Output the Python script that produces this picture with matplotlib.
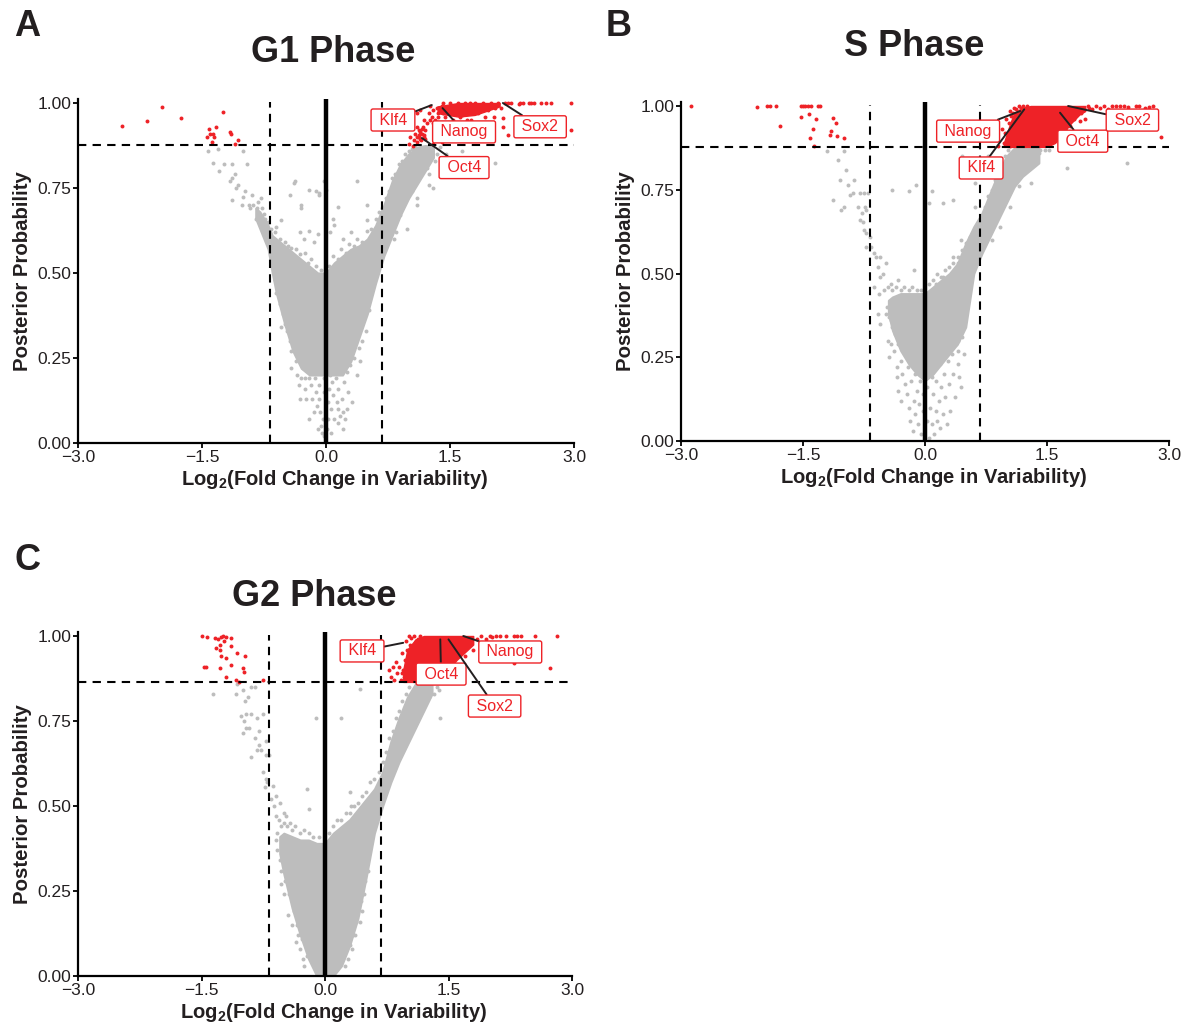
import numpy as np
from matplotlib import pyplot as plt

plt.rcParams['font.family'] = ['Liberation Sans', 'DejaVu Sans']
plt.rcParams['mathtext.fontset'] = 'custom'
plt.rcParams['mathtext.bf'] = 'Liberation Sans:bold'
plt.rcParams['mathtext.rm'] = 'Liberation Sans'

W, H = 1189, 1028
GREY = '#bdbdbd'
RED = '#ee2227'
INK = '#231f20'
FOLD = np.log2(1.6)

x_ticks = [-3.0, -1.5, 0.0, 1.5, 3.0]
x_tick_labels = ['\u22123.0', '\u22121.5', '0.0', '1.5', '3.0']
y_ticks = [0, 0.25, 0.5, 0.75, 1.0]
y_tick_labels = ['0.00', '0.25', '0.50', '0.75', '1.00']

g1_x = [-.85, -.8, -.7, -.65, -.6, -.5, -.4, -.3, -.2, -.1, 0, .1, .2, .3, .4, .5, .6, .7, .8, .9, 1.0, 1.1, 1.2, 1.3]
g1_lo = [.66, .63, .57, .50, .44, .35, .27, .22, .20, .20, .20, .20, .20, .24, .31, .38, .47, .55, .61, .67, .72, .76, .80, .84]
g1_hi = [.69, .68, .64, .61, .60, .58, .56, .54, .52, .50, .50, .53, .55, .57, .58, .60, .64, .70, .77, .82, .85, .87, .875, .875]

s_x = [-.45, -.4, -.3, -.2, -.1, 0, .1, .2, .3, .4, .5, .6, .7, .8, .9, 1.0, 1.1, 1.2, 1.3, 1.4]
s_lo = [.38, .33, .27, .23, .20, .18, .20, .23, .26, .29, .34, .50, .56, .61, .66, .71, .76, .79, .81, .83]
s_hi = [.42, .43, .44, .44, .44, .44, .46, .48, .50, .53, .59, .64, .68, .74, .80, .85, .875, .875, .875, .875]

g2_x = [-.55, -.5, -.4, -.3, -.2, -.1, 0, .1, .2, .3, .4, .5, .6, .7, .8, .9, 1.0, 1.1, 1.2, 1.3]
g2_lo = [.36, .30, .20, .12, .05, 0, 0, 0, .03, .09, .17, .29, .42, .50, .57, .63, .68, .73, .78, .83]
g2_hi = [.41, .42, .41, .40, .40, .39, .39, .42, .44, .46, .49, .52, .55, .60, .69, .76, .82, .86, .86, .86]

# dense part of the red clouds
g1_red_x = [1.35, 1.6, 1.8, 2.1]
g1_red_lo = [.97, .96, .965, .99]
g1_red_hi = [.99, 1.0, 1.0, 1.0]

s_red_x = [.97, 1.05, 1.1, 1.2, 1.3, 1.5, 1.6, 1.7, 1.8, 1.9, 1.97]
s_red_lo = [.878, .878, .878, .878, .878, .878, .89, .92, .95, .975, .985]
s_red_hi = [.89, .95, .98, .995, 1.0, 1.0, 1.0, 1.0, 1.0, 1.0, 1.0]

g2_red_x = [.95, 1.0, 1.1, 1.2, 1.4, 1.6, 1.8]
g2_red_lo = [.865, .865, .865, .865, .875, .93, .975]
g2_red_hi = [.9, .96, .99, 1.0, 1.0, 1.0, 1.0]

g1_grey = [(-1.43, .86), (-1.37, .824), (-1.31, .865), (-1.30, .80), (-1.23, .82), (-1.14, .82), (-1.0, .86), (-.96, .82),
           (-1.14, .78), (-1.10, .79), (-1.16, .77), (-1.07, .76), (-.98, .74), (-1.14, .715), (-1.0, .725), (-.89, .73),
           (-.79, .72), (-.93, .70), (-.84, .69), (-.75, .675), (-.54, .655), (-.61, .635), (-1.02, .70), (-1.09, .75),
           (-.39, .765), (-.37, .77), (-.43, .73), (-.21, .745), (-.12, .74), (-.09, .735), (-.03, .77), (-.30, .70),
           (-.08, .73), (.38, .77), (.49, .70), (.14, .695), (.0, .745), (-.3, .69), (-.31, .62), (-.2, .625), (-.1, .615),
           (.1, .64), (.05, .62), (.2, .6), (-.27, .60), (.49, .655), (.08, .66), (-.15, .59), (.3, .62),
           (2.05, .825), (1.65, .86), (1.45, .85), (1.3, .75), (1.24, .79), (1.1, .72), (.85, .62), (.98, .63), (1.1, .7),
           (1.38, .87), (1.32, .83), (.9, .67), (.82, .60), (1.25, .76), (.93, .79), (1.03, .81),
           (-.55, .34), (-.47, .33), (-.42, .27), (-.36, .24), (-.35, .20), (-.33, .17), (-.32, .13), (-.28, .22), (-.26, .19),
           (-.25, .16), (-.22, .22), (-.2, .19), (-.18, .17), (-.17, .13), (-.16, .21), (-.13, .19), (-.12, .15), (-.11, .11),
           (-.09, .17), (-.08, .13), (-.07, .09), (-.06, .05), (-.05, .03), (-.04, .07), (-.03, .15), (-.02, .02), (.01, .04),
           (.02, .12), (.03, .07), (.04, .16), (.06, .1), (.07, .18), (.09, .14), (.1, .07), (.12, .19), (.13, .12), (.15, .16),
           (.17, .08), (.18, .22), (.19, .13), (.2, .09), (.22, .18), (.23, .07), (.25, .21), (.27, .15), (.29, .23), (.31, .12),
           (.34, .25), (.37, .2), (.4, .28), (.41, .24), (.43, .3), (.48, .33), (.52, .39)]

g1_fringe = [(-.92, .69), (-.88, .70), (-.85, .66), (-.82, .71), (-.78, .69), (-.74, .66), (-.7, .65), (-.66, .63), (-.62, .62),
             (-.56, .60), (-.5, .59), (-.46, .58), (-.42, .575), (-.36, .57), (-.32, .555), (-.26, .56), (-.22, .53), (-.18, .54),
             (-.12, .52), (-.06, .51), (.04, .52), (.09, .55), (.14, .54), (.18, .57), (.24, .56), (.28, .585), (.34, .58),
             (.38, .60), (.44, .59), (.5, .625), (.55, .63), (.6, .66), (.64, .68), (.68, .69), (.72, .72), (.76, .74), (.8, .78),
             (.84, .79), (.88, .82), (.92, .83), (.96, .85), (1.0, .86), (1.04, .865), (1.08, .87), (.62, .55), (.68, .58),
             (.74, .61), (.8, .63), (.86, .66), (.92, .69), (.98, .72), (1.04, .74), (1.1, .77), (1.16, .80), (1.22, .81),
             (1.28, .84), (1.34, .85), (.56, .47), (.52, .42), (.46, .4), (.42, .35), (-.66, .53), (-.62, .48), (-.6, .44),
             (-.56, .41), (-.52, .38), (-.5, .35), (-.46, .34), (-.44, .3), (-.4, .31), (-.36, .28), (-.32, .26), (-.14, .24),
             (-.07, .21), (-.02, .19), (.05, .2), (.11, .21), (.16, .24), (.24, .25), (.32, .28), (-.42, .22), (-.3, .19), (-.24, .13),
             (-.2, .07), (-.15, .09), (-.1, .04), (.06, .03), (.14, .06), (.21, .04), (.15, .1), (.26, .1)]

g1_red = [(-2.47, .933), (-2.17, .948), (-1.98, .988), (-1.75, .955), (-1.24, .974), (-1.42, .925), (-1.33, .93), (-1.44, .90),
          (-1.40, .91), (-1.37, .91), (-1.35, .90), (-1.38, .885), (-1.16, .915), (-1.15, .91), (-1.06, .89), (-1.1, .88),
          (1.0, .88), (1.02, .90), (1.05, .875), (1.07, .89), (1.08, .91), (1.1, .885), (1.1, .93), (1.12, .90), (1.13, .92),
          (1.15, .89), (1.16, .91), (1.17, .93), (1.18, .95), (1.19, .90), (1.2, .92), (1.1, .97), (1.14, .98), (1.22, .94),
          (1.24, .97), (1.26, .99), (1.28, .96), (1.3, .98), (1.32, .95), (1.34, .985), (1.36, .97), (1.38, .94), (1.4, .99),
          (1.42, 1.0), (1.44, .96), (1.46, .98), (1.48, .94), (1.5, 1.0), (1.52, .97), (1.54, .95), (1.56, .99), (1.58, .97),
          (1.6, 1.0), (1.62, .96), (1.64, .98), (1.66, .94), (1.68, 1.0), (1.7, .97), (1.72, .99), (1.74, 1.0), (1.76, .95),
          (1.78, .98), (1.8, 1.0), (1.84, .97), (1.88, .99), (1.9, 1.0), (1.92, .96), (1.96, .98), (2.0, 1.0), (2.02, .99),
          (2.05, .985), (2.08, 1.0), (2.12, .985), (2.16, 1.0), (2.2, 1.0), (2.24, 1.0), (2.33, .997), (2.35, 1.0), (2.38, 1.0),
          (2.45, 1.0), (2.48, 1.0), (2.52, 1.0), (2.6, 1.0), (2.66, 1.0), (2.72, 1.0), (2.96, 1.0), (2.96, .92), (2.14, .955),
          (2.03, .96), (2.14, .93), (1.8, .94), (1.69, .915), (1.62, .93), (2.2, .905), (1.5, .89), (1.4, .885), (1.3, .88),
          (1.12, .905), (1.14, .915), (1.16, .925), (1.1, .9), (1.18, .905), (1.2, .895), (1.14, .895), (1.5, .97), (1.55, .98),
          (1.65, .965), (1.7, .95), (1.75, .97), (1.85, .985), (1.95, .995), (1.35, .96), (1.42, .97), (1.3, .94), (1.26, .95)]

s_grey = [(-1.2, .865), (-1.07, .84), (-1.0, .865), (-.97, .81), (-1.05, .78), (-.95, .765), (-.87, .78), (-1.13, .72),
          (-.92, .735), (-.88, .74), (-.8, .74), (-.75, .74), (-.7, .74), (-1.0, .70), (-1.03, .69), (-.82, .70), (-.78, .68),
          (-.74, .70), (-.72, .69), (-.8, .66), (-.76, .655), (-.75, .63), (-.72, .62), (-.68, .61), (-.72, .58), (-.66, .58),
          (-.63, .56), (-.6, .55), (-.55, .55), (-.58, .52), (-.55, .49), (-.52, .50), (-.48, .53), (-.42, .47), (-.33, .48),
          (-.14, .51), (-.63, .46), (-.56, .44), (-.58, .38), (-.48, .38), (-.42, .36), (-.11, .765), (-.2, .745), (-.4, .75),
          (.09, .745), (.05, .71), (.22, .71), (.35, .72), (-.55, .35), (-.45, .30), (-.44, .25), (-.42, .29), (-.38, .27),
          (-.35, .22), (-.34, .19), (-.33, .15), (-.3, .24), (-.3, .12), (-.28, .20), (-.25, .17), (-.24, .27), (-.22, .14),
          (-.21, .22), (-.2, .1), (-.19, .06), (-.17, .18), (-.16, .25), (-.15, .03), (-.14, .12), (-.12, .08), (-.12, .2),
          (-.1, .15), (-.08, .05), (-.07, .11), (-.06, .18), (-.05, .02), (-.03, .09), (-.02, .14), (.02, .06), (.03, .16), (.05, .01),
          (.06, .1), (.08, .19), (.09, .05), (.1, .14), (.11, .02), (.13, .09), (.14, .18), (.15, .06), (.17, .12), (.18, .23),
          (.19, .04), (.2, .16), (.22, .08), (.23, .2), (.25, .13), (.27, .05), (.28, .24), (.3, .17), (.31, .09), (.33, .26),
          (.35, .2), (.37, .13), (.38, .29), (.4, .23), (.42, .19), (.44, .16), (.41, .27), (.45, .31), (.36, .33), (.46, .35),
          (.5, .39), (.48, .26), (.34, .55), (.4, .53), (.44, .6), (.35, .5), (.22, .49), (.15, .5),
          (1.75, .815), (2.48, .83), (1.53, .87), (1.3, .77), (1.15, .76), (1.05, .7), (.92, .64), (.82, .6), (1.4, .86), (.45, .85),
          (.62, .77), (.78, .85), (.62, .7)]

s_fringe = [(-.5, .45), (-.46, .46), (-.4, .45), (-.36, .46), (-.3, .45), (-.26, .46), (-.2, .45), (-.16, .46), (-.1, .45), (-.05, .45),
            (.05, .47), (.1, .48), (.14, .47), (.2, .49), (.24, .51), (.3, .52), (.34, .53), (.4, .55), (.45, .57), (.5, .59), (.55, .61),
            (.6, .63), (.65, .65), (.7, .67), (.74, .70), (.78, .73), (.82, .75), (.86, .78), (.9, .80), (.94, .83), (.98, .85), (1.02, .87),
            (.55, .52), (.6, .54), (.65, .57), (.72, .60), (.78, .63), (.84, .66), (.9, .69), (.96, .72), (1.02, .75), (1.08, .78),
            (1.14, .80), (1.2, .81), (1.26, .83), (1.32, .84), (1.38, .85), (1.42, .87), (1.48, .87), (.52, .46), (.5, .41), (.48, .38),
            (-.47, .40), (-.44, .37), (-.4, .34), (-.37, .32), (-.33, .29), (-.27, .28), (-.22, .25), (-.14, .22), (-.08, .21), (.07, .21),
            (.14, .22), (.22, .25), (.3, .28), (.4, .3), (1.12, .86), (1.25, .865), (1.35, .865)]

s_red = [(-2.88, 1.0), (-2.07, .997), (-1.94, 1.0), (-1.9, 1.0), (-1.83, 1.0), (-1.53, 1.0), (-1.5, 1.0), (-1.47, 1.0), (-1.44, 1.0),
         (-1.4, 1.0), (-1.32, 1.0), (-1.29, 1.0), (-1.52, .968), (-1.43, .975), (-1.34, .96), (-1.13, .965), (-1.1, .948), (-1.78, .94),
         (-1.41, .905), (-1.38, .93), (-1.15, .925), (-1.17, .913), (-1.08, .91), (-.99, .905), (-1.36, .88),
         (.9, .88), (.95, .93), (.97, .89), (1.0, .96), (1.02, .91), (1.05, .985), (1.1, .995), (1.15, 1.0), (1.2, 1.0),
         (1.0, .89), (1.03, .95), (1.06, .97), (1.08, .98), (1.12, .99), (1.18, .995), (1.25, 1.0), (.98, .92), (1.04, .88),
         (1.83, .96), (1.9, .955), (1.97, .96), (1.82, .92), (1.77, .905), (2.05, .99), (2.1, 1.0), (2.15, .995), (2.2, 1.0),
         (2.25, .99), (2.3, 1.0), (2.35, 1.0), (2.4, 1.0), (2.45, 1.0), (2.5, .998), (2.6, 1.0), (2.63, 1.0), (2.7, .995), (2.75, .997),
         (2.8, 1.0), (2.9, .908), (1.7, .88), (1.65, .9), (2.0, 1.0), (1.72, .93), (1.78, .94), (1.85, .97), (1.92, .98), (1.95, .99), (2.02, .995)]

g2_grey = [(-1.07, .86), (-1.0, .84), (-.9, .85), (-.85, .85), (-1.36, .83), (-1.08, .83), (-.97, .81), (-.93, .82), (-.96, .77),
           (-1.02, .765), (-.98, .75), (-.9, .77), (-.82, .76), (-.75, .77), (-.92, .73), (-.96, .73), (-.8, .72), (-.85, .70), (-1.0, .715),
           (-.72, .69), (-.8, .68), (-.83, .665), (-.78, .665), (-.72, .65), (-.9, .645), (-.68, .65), (-.75, .6), (-.72, .58), (-.7, .57),
           (-.73, .555), (-.63, .56), (-.6, .53), (-.55, .51), (-.5, .48), (-.47, .47), (-.42, .45), (-.22, .55), (-.2, .49), (-.11, .76),
           (.2, .76), (.42, .845), (1.4, .76), (.3, .54), (.32, .5), (-.58, .42), (-.53, .27), (-.5, .24), (-.45, .18), (-.4, .15),
           (-.38, .2), (-.35, .1), (-.33, .12), (-.3, .08), (-.27, .05), (-.25, .03), (-.22, .06), (.24, .03), (.28, .05), (.33, .08),
           (.37, .12), (.42, .16), (.45, .19), (.47, .24), (.49, .28), (.52, .31)]

g2_fringe = [(-.66, .52), (-.62, .50), (-.6, .47), (-.56, .46), (-.54, .44), (-.5, .45), (-.46, .44), (-.4, .43), (-.36, .44), (-.3, .42),
             (-.26, .43), (-.2, .42), (-.14, .41), (-.07, .41), (.05, .42), (.1, .44), (.15, .46), (.2, .46), (.25, .48), (.3, .48), (.35, .5),
             (.4, .51), (.45, .53), (.5, .54), (.55, .57), (.6, .58), (.65, .60), (.7, .63), (.74, .66), (.78, .70), (.82, .72), (.86, .76),
             (.9, .78), (.94, .81), (.98, .83), (1.02, .85), (.62, .5), (.66, .54), (.72, .57), (.78, .60), (.84, .64), (.9, .67), (.96, .70),
             (1.02, .73), (1.08, .76), (1.14, .78), (1.2, .80), (1.26, .82), (1.32, .83), (1.36, .85), (1.38, .84), (.56, .42), (.52, .36),
             (.48, .33), (-.6, .40), (-.58, .37), (-.55, .34), (-.53, .31), (-.48, .28), (-.44, .24), (-.38, .19), (-.34, .15), (-.28, .11),
             (.44, .22), (.38, .16), (.34, .12), (.3, .09)]

g2_red = [(-1.5, 1.0), (-1.43, .998), (-1.34, .995), (-1.3, .99), (-1.26, .998), (-1.24, 1.0), (-1.2, .998), (-1.14, .994), (-1.32, .965),
          (-1.27, .975), (-1.23, .985), (-1.27, .96), (-1.14, .97), (-1.07, .95), (-.97, .94), (-1.26, .94), (-1.2, .935), (-1.14, .915),
          (-1.47, .91), (-1.44, .91), (-1.27, .905), (-1.0, .905), (-.98, .895), (-1.2, .88), (-1.08, .87), (-1.04, .865), (-.75, .87),
          (.78, .9), (.8, .88), (.83, .91), (.84, .87), (.86, .925), (.88, .89), (.9, .91), (.92, .87), (.93, .95), (.95, .9), (.97, .93),
          (.98, .985), (1.02, 1.0), (1.05, .995), (1.08, 1.0), (1.15, 1.0), (1.9, 1.0), (1.95, .99), (2.0, 1.0), (2.03, .998), (2.08, 1.0), (2.13, 1.0),
          (2.2, 1.0), (2.3, 1.0), (2.33, 1.0), (2.38, 1.0), (2.55, 1.0), (2.82, 1.0), (2.73, .905), (2.3, .92), (1.8, .96), (1.7, .94), (1.55, .91),
          (1.0, .885), (1.02, .92), (1.04, .87), (1.06, .95), (1.0, .96), (1.03, .975), (1.1, .985), (1.13, .99), (1.65, .965), (1.75, .975),
          (1.85, .99), (.96, .88), (.99, .905), (.94, .89)]

# labels: gene, label x, label y, point x, point y
g1_genes = [('Klf4', .81, .95, 1.28, .994), ('Nanog', 1.67, .915, 1.41, .985), ('Sox2', 2.59, .93, 2.14, 1.0), ('Oct4', 1.67, .81, 1.16, .897)]
s_genes = [('Nanog', .53, .925, 1.17, .985), ('Klf4', .69, .815, 1.22, .99), ('Oct4', 1.94, .895, 1.66, .98), ('Sox2', 2.55, .958, 1.76, 1.0)]
g2_genes = [('Klf4', .45, .956, .95, .98), ('Oct4', 1.41, .888, 1.40, .99), ('Nanog', 2.25, .953, 1.68, 1.0), ('Sox2', 2.06, .794, 1.5, .99)]


def draw_panel(fig, box, title, title_xy, env, red_env, grey, red, hline, genes):
    left, right, zero, one = box
    unit = zero - one
    top = one - 0.012 * unit
    ax = fig.add_axes([left / W, 1 - zero / H, (right - left) / W, (zero - top) / H])
    ax.fill_between(env[0], env[1], env[2], color=GREY, lw=1.5, zorder=1)
    gx, gy = np.array(grey).T
    ax.scatter(gx, gy, s=8, color=GREY, lw=0, zorder=1, clip_on=False)
    ax.fill_between(red_env[0], red_env[1], red_env[2], color=RED, lw=1, zorder=2)
    rx, ry = np.array(red).T
    ax.scatter(rx, ry, s=8, color=RED, lw=0, zorder=2, clip_on=False)
    ax.axvline(0, color='black', lw=3.2, zorder=3)
    for v in (-FOLD, FOLD):
        ax.axvline(v, color='black', lw=1.5, dashes=(4, 3), zorder=3, ymax=0.99)
    ax.axhline(hline, color='black', lw=1.5, dashes=(4, 3), zorder=3)
    for gene, lx, ly, px, py in genes:
        ax.annotate(' ' + gene + ' ', xy=(px, py), xytext=(lx, ly), color=RED, fontsize=11.5, ha='center', va='center', zorder=5,
                    bbox=dict(boxstyle='round,pad=0.22,rounding_size=0.12', fc='white', ec=RED, lw=1),
                    arrowprops=dict(arrowstyle='-', color=INK, lw=1.4, shrinkA=0, shrinkB=0))
    ax.set_xlim(-3, 3)
    ax.set_ylim(0, 1.012)
    ax.set_xticks(x_ticks, x_tick_labels, fontsize=12.5, color=INK)
    ax.set_yticks(y_ticks, y_tick_labels, fontsize=12.5, color=INK)
    ax.tick_params(length=3.5, width=1.3, pad=1.5)
    ax.spines[['top', 'right']].set_visible(False)
    ax.spines[['left', 'bottom']].set_linewidth(1.6)
    ax.set_xlabel('Log$_{\\mathbf{2}}$(Fold Change in Variability)', fontsize=14.5, fontweight='bold', color=INK, labelpad=2, x=0.5 + 9 / (right - left))
    ax.set_ylabel('Posterior Probability', fontsize=14.7, fontweight='bold', color=INK, labelpad=4)
    fig.text(title_xy[0] / W, 1 - title_xy[1] / H, title, fontsize=26, fontweight='bold', color=INK, ha='center', va='center')


fig = plt.figure(figsize=(W / 100, H / 100), dpi=100)
draw_panel(fig, (78, 574, 443, 103), 'G1 Phase', (333, 52), (g1_x, g1_lo, g1_hi), (g1_red_x, g1_red_lo, g1_red_hi), g1_grey + g1_fringe, g1_red, .877, g1_genes)
draw_panel(fig, (681, 1169, 441, 106), 'S Phase', (914, 47), (s_x, s_lo, s_hi), (s_red_x, s_red_lo, s_red_hi), s_grey + s_fringe, s_red, .878, s_genes)
draw_panel(fig, (78, 572, 976, 636), 'G2 Phase', (314, 596), (g2_x, g2_lo, g2_hi), (g2_red_x, g2_red_lo, g2_red_hi), g2_grey + g2_fringe, g2_red, .865, g2_genes)

for letter, x, y in [('A', 27, 27), ('B', 619, 27), ('C', 27, 561)]:
    fig.text(x / W, 1 - y / H, letter, fontsize=26, fontweight='bold', color=INK, ha='center', va='center')

fig.savefig('out.png', dpi=100)
